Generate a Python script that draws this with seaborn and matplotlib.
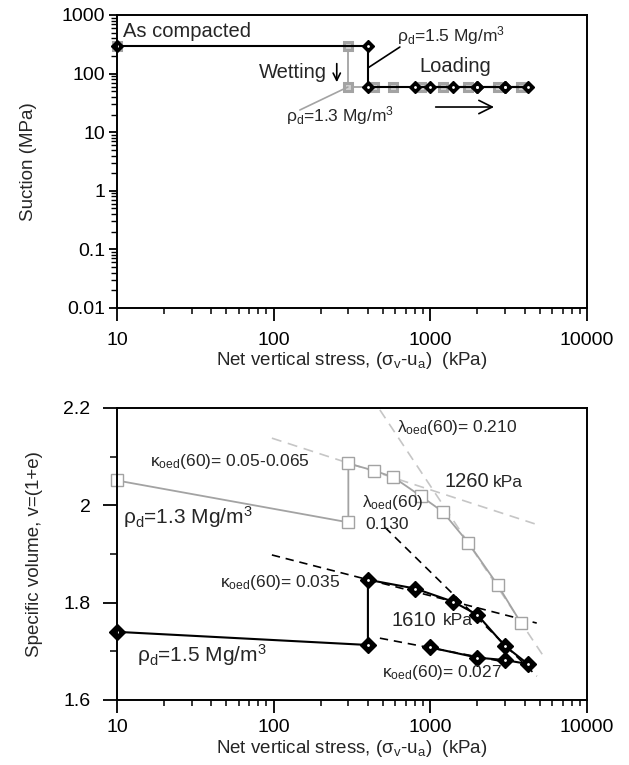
import numpy as np
import pandas as pd
import matplotlib
matplotlib.use("Agg")
import matplotlib.pyplot as plt
import seaborn as sns
from matplotlib.ticker import LogLocator, NullFormatter, FixedLocator

# ---------------- data ----------------
# rho_d = 1.5 Mg/m3 path (net vertical stress, kPa)
s15_stress = [10, 400, 400, 800, 1400, 2000, 3000, 4200, 3000, 2000, 1000]
s15_suction = [300, 300, 60, 60, 60, 60, 60, 60, 60, 60, 60]          # MPa
s15_v = [1.740, 1.713, 1.847, 1.829, 1.802, 1.775, 1.711, 1.674, 1.682, 1.687, 1.708]

# rho_d = 1.3 Mg/m3 path
s13_stress = [10, 300, 300, 440, 580, 870, 1200, 1750, 2700, 3800]
s13_suction = [300, 300, 60, 60, 60, 60, 60, 60, 60, 60]
s13_v = [2.051, 1.965, 2.086, 2.071, 2.058, 2.019, 1.987, 1.923, 1.836, 1.758]

# guide lines (kappa / lambda) in the v - log stress plane
g13_kappa_x, g13_kappa_v = [97.5, 4645], [2.138, 1.962]
g13_lambda_x, g13_lambda_v = [477, 5234], [2.196, 1.692]
g15_kappa1_x, g15_kappa1_v = [97.5, 4786], [1.898, 1.758]
g15_lambda_x, g15_lambda_v = [513, 4786], [1.955, 1.649]
g15_kappa2_x, g15_kappa2_v = [477, 2780], [1.727, 1.680]

x_ticks = [10, 100, 1000, 10000]
x_ticklabels = ["10", "100", "1000", "10000"]
suction_ticks = [0.01, 0.1, 1, 10, 100, 1000]
suction_ticklabels = ["0.01", "0.1", "1", "10", "100", "1000"]
v_ticks = [1.6, 1.8, 2.0, 2.2]
v_ticklabels = ["1.6", "1.8", "2", "2.2"]

# ---------------- style ----------------
sns.set_style("ticks")
plt.rcParams['font.family'] = ['Liberation Sans', 'DejaVu Sans']
plt.rcParams['mathtext.fontset'] = 'custom'
plt.rcParams['mathtext.rm'] = 'Liberation Sans'
plt.rcParams['mathtext.it'] = 'Liberation Sans:italic'
plt.rcParams['mathtext.sf'] = 'Liberation Sans'
plt.rcParams['mathtext.bf'] = 'Liberation Sans:bold'

GRAY = "#a3a3a3"
LGRAY = "#c6c6c6"
LAB = 12.5

fig = plt.figure(figsize=(6.29, 7.65), dpi=100)
ax1 = fig.add_axes([0.186, 0.5974, 0.747, 0.383])
ax2 = fig.add_axes([0.186, 0.0850, 0.747, 0.3817])

df13 = pd.DataFrame({"stress": s13_stress, "suction": s13_suction, "v": s13_v})
df15 = pd.DataFrame({"stress": s15_stress, "suction": s15_suction, "v": s15_v})

# ---------------- top panel ----------------
sns.lineplot(data=df13, x="stress", y="suction", sort=False, estimator=None, ax=ax1,
             color=GRAY, lw=1.3, marker="s", ms=6, mfc="#d0d0d0", mec=GRAY, mew=2.2,
             clip_on=False)
sns.lineplot(data=df15, x="stress", y="suction", sort=False, estimator=None, ax=ax1,
             color="black", lw=1.5, marker="D", ms=6.5, mfc="black", mec="black", mew=1,
             clip_on=False)
ax1.plot(df15["stress"], df15["suction"], ls="none", marker=".", ms=2, color="white",
         clip_on=False)

ax1.set_xscale("log")
ax1.set_yscale("log")
ax1.set_xlim(10, 10000)
ax1.set_ylim(0.01, 1000)

ax1.text(10.9, 533, "As compacted", fontsize=14.5, ha="left", va="center")
ax1.text(612, 438, r"ρ$_{\rm d}$=1.5 Mg/m$^3$", fontsize=12.5, ha="left", va="center")
ax1.plot([400, 640], [125, 284], color="black", lw=1.2)
ax1.text(1455, 130, "Loading", fontsize=14.5, ha="center", va="center")
ax1.annotate("", xy=(2661, 26.9), xytext=(1040, 26.9),
             arrowprops=dict(arrowstyle="->", color="black", lw=1.2, mutation_scale=24))
ax1.text(219, 106, "Wetting", fontsize=14.5, ha="right", va="center")
ax1.annotate("", xy=(253, 64), xytext=(253, 165),
             arrowprops=dict(arrowstyle="->", color="black", lw=1.2, mutation_scale=13))
ax1.text(265, 18.9, r"ρ$_{\rm d}$=1.3 Mg/m$^3$", fontsize=12.5, ha="center", va="center")
ax1.plot([147, 298], [23.9, 59], color=GRAY, lw=1.2)

ax1.set_xlabel(r"Net vertical stress, (σ$_{\rm v}$-u$_{\rm a}$)  (kPa)", fontsize=13.5, labelpad=1)
ax1.set_ylabel("Suction (MPa)", fontsize=13.5, labelpad=18)

# ---------------- bottom panel ----------------
for gx, gv, col in [(g13_kappa_x, g13_kappa_v, LGRAY), (g13_lambda_x, g13_lambda_v, LGRAY),
                    (g15_kappa1_x, g15_kappa1_v, "black"), (g15_lambda_x, g15_lambda_v, "black"),
                    (g15_kappa2_x, g15_kappa2_v, "black")]:
    ax2.plot(gx, gv, color=col, lw=1.2, ls=(0, (6, 4)) if col == LGRAY else (0, (5, 3.5)))

sns.lineplot(data=df13, x="stress", y="v", sort=False, estimator=None, ax=ax2,
             color=GRAY, lw=1.3, marker="s", ms=9, mfc="white", mec=GRAY, mew=1.0,
             clip_on=False)
sns.lineplot(data=df15, x="stress", y="v", sort=False, estimator=None, ax=ax2,
             color="black", lw=1.5, marker="D", ms=8, mfc="black", mec="black", mew=1,
             clip_on=False)
ax2.plot(df15["stress"], df15["v"], ls="none", marker=".", ms=2, color="white", clip_on=False)

ax2.set_xscale("log")
ax2.set_xlim(10, 10000)
ax2.set_ylim(1.6, 2.2)

ax2.text(16.2, 2.089, r"κ$_{\rm oed}$(60)= 0.05-0.065", fontsize=LAB, ha="left", va="center")
ax2.text(10.9, 1.976, r"ρ$_{\rm d}$=1.3 Mg/m$^3$", fontsize=15, ha="left", va="center")
ax2.text(612, 2.159, r"λ$_{\rm oed}$(60)= 0.210", fontsize=LAB, ha="left", va="center")
ax2.text(1239, 2.048, "1260", fontsize=14.5, ha="left", va="center")
ax2.text(2512, 2.047, "kPa", fontsize=LAB, ha="left", va="center")
ax2.text(366, 2.005, r"λ$_{\rm oed}$(60)", fontsize=LAB, ha="left", va="center")
ax2.text(383, 1.960, "0.130", fontsize=LAB, ha="left", va="center")
ax2.text(45.4, 1.842, r"κ$_{\rm oed}$(60)= 0.035", fontsize=LAB, ha="left", va="center")
ax2.text(569, 1.764, "1610", fontsize=14.5, ha="left", va="center")
ax2.text(1203, 1.763, "kPa", fontsize=LAB, ha="left", va="center")
ax2.text(13.4, 1.692, r"ρ$_{\rm d}$=1.5 Mg/m$^3$", fontsize=15, ha="left", va="center")
ax2.text(491, 1.656, r"κ$_{\rm oed}$(60)= 0.027", fontsize=LAB, ha="left", va="center")

ax2.set_xlabel(r"Net vertical stress, (σ$_{\rm v}$-u$_{\rm a}$)  (kPa)", fontsize=13.5, labelpad=1)
ax2.set_ylabel("Specific volume, v=(1+e)", fontsize=13.5, labelpad=15)

# ---------------- ticks / spines ----------------
for ax in (ax1, ax2):
    ax.xaxis.set_major_locator(FixedLocator(x_ticks))
    ax.set_xticklabels(x_ticklabels)
    ax.xaxis.set_minor_locator(LogLocator(base=10, subs=np.arange(2, 10)))
    ax.xaxis.set_minor_formatter(NullFormatter())
    for sp in ax.spines.values():
        sp.set_linewidth(1.4)
        sp.set_color("black")
    ax.tick_params(which="both", direction="out", top=False, right=False, colors="black",
                   labelsize=14)
    ax.tick_params(axis="x", which="major", length=9, width=1.3)
    ax.tick_params(axis="x", which="minor", length=4.5, width=1.1)

ax1.tick_params(axis="x", which="major", pad=8)
ax2.tick_params(axis="x", which="major", pad=5)

ax1.yaxis.set_major_locator(FixedLocator(suction_ticks))
ax1.set_yticklabels(suction_ticklabels)
ax1.yaxis.set_minor_locator(LogLocator(base=10, subs=np.arange(2, 10)))
ax1.yaxis.set_minor_formatter(NullFormatter())
ax1.tick_params(axis="y", which="major", length=5.5, width=1.3, pad=3)
ax1.tick_params(axis="y", which="minor", length=4.5, width=1.0)

ax2.yaxis.set_major_locator(FixedLocator(v_ticks))
ax2.set_yticklabels(v_ticklabels)
ax2.yaxis.set_minor_locator(FixedLocator([1.7, 1.9, 2.1]))
ax2.tick_params(axis="y", which="major", length=10, width=1.3, pad=9)
ax2.tick_params(axis="y", which="minor", length=5, width=1.1)

fig.savefig("out.png", dpi=100)
